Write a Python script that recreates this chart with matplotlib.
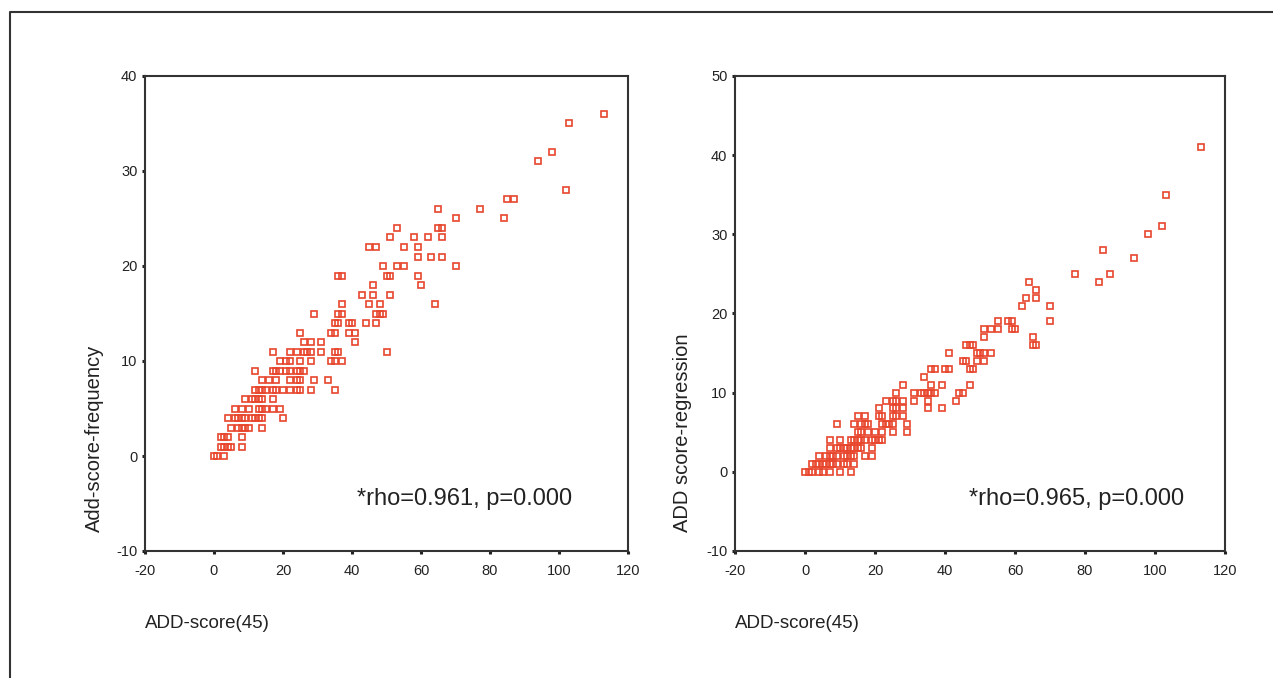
import matplotlib.pyplot as plt
from matplotlib.lines import Line2D

plt.rcParams['axes.unicode_minus'] = False

# values: y level, then the ADD-score(45) values on that level
freq_levels = [0, 1, 2, 3, 4, 5, 6, 7, 8, 9, 10, 11, 12, 13, 14, 15, 16, 17, 18, 19,
               20, 21, 22, 23, 24, 25, 26, 27, 28, 31, 32, 35, 36]
freq_x = [
    [0, 1, 3],
    [2, 3, 4, 5, 8],
    [2, 3, 4, 8],
    [5, 7, 8, 9, 10, 14],
    [4, 6, 7, 8, 9, 11, 12, 13, 14, 20],
    [6, 8, 10, 13, 14, 15, 17, 19],
    [9, 11, 12, 13, 14, 17],
    [12, 13, 14, 15, 17, 18, 20, 22, 24, 25, 28, 35],
    [14, 16, 18, 22, 24, 25, 29, 33],
    [12, 17, 18, 19, 21, 22, 24, 25, 26],
    [19, 21, 22, 25, 28, 34, 35, 37],
    [17, 22, 24, 26, 27, 28, 31, 35, 36, 50],
    [26, 28, 31, 41],
    [25, 34, 35, 39, 41],
    [35, 36, 39, 40, 44, 47],
    [29, 36, 37, 47, 48, 49],
    [37, 45, 48, 64],
    [43, 46, 51],
    [46, 60],
    [36, 37, 50, 51, 59],
    [49, 53, 55, 70],
    [59, 63, 66],
    [45, 47, 55, 59],
    [51, 58, 62, 66],
    [53, 65, 66],
    [70, 84],
    [65, 77],
    [85, 87],
    [102],
    [94],
    [98],
    [103],
    [113],
]

regr_levels = [0, 1, 2, 3, 4, 5, 6, 7, 8, 9, 10, 11, 12, 13, 14, 15, 16, 17, 18, 19,
               21, 22, 23, 24, 25, 27, 28, 30, 31, 35, 41]
regr_x = [
    [0, 1, 2, 4, 5, 7, 10, 13],
    [2, 3, 4, 5, 6, 7, 8, 9, 11, 12, 14],
    [4, 6, 7, 8, 9, 11, 12, 13, 14, 17, 19],
    [7, 9, 10, 11, 12, 13, 14, 15, 16, 19],
    [7, 10, 13, 14, 15, 16, 17, 19, 20, 21, 22],
    [15, 16, 18, 20, 22, 25, 29],
    [9, 14, 16, 17, 18, 22, 23, 24, 25, 29],
    [15, 17, 21, 22, 25, 26, 28],
    [21, 25, 26, 28, 35, 39],
    [23, 25, 26, 28, 31, 35, 43],
    [26, 31, 33, 34, 35, 36, 37, 44, 45],
    [28, 36, 39, 47],
    [34],
    [36, 37, 40, 41, 47, 48],
    [45, 46, 49, 51],
    [41, 49, 50, 51, 53],
    [46, 47, 48, 65, 66],
    [51, 65],
    [51, 53, 55, 59, 60],
    [55, 58, 59, 70],
    [62, 70],
    [63, 66],
    [66],
    [64, 84],
    [77, 87],
    [94],
    [85],
    [98],
    [102],
    [103],
    [113],
]

y_labels = ['Add-score-frequency', 'ADD score-regression']
x_label = 'ADD-score(45)'
notes = ['*rho=0.961, p=0.000', '*rho=0.965, p=0.000']
y_ticks = [[-10, 0, 10, 20, 30, 40], [-10, 0, 10, 20, 30, 40, 50]]
x_ticks = [-20, 0, 20, 40, 60, 80, 100, 120]

font = ['Liberation Sans', 'DejaVu Sans']
red = '#e8462c'
ink = '#333333'


def flatten(levels, xs):
    px, py = [], []
    for lv, row in zip(levels, xs):
        for v in row:
            px.append(v)
            py.append(lv)
    return px, py


W, H = 1273, 678
fig = plt.figure(figsize=(W / 100, H / 100), dpi=100)

# outer frame, only its left and top edges are inside the picture
fig.add_artist(Line2D([10 / W, 10 / W, 1.02], [-0.02, 1 - 12 / H, 1 - 12 / H],
                      transform=fig.transFigure, color=ink, lw=1.5))

panels = [
    (flatten(freq_levels, freq_x), [145, 483], 94, 357, 145),
    (flatten(regr_levels, regr_x), [735, 490], 683, 969, 735),
]

for i, ((px, py), (left, width), ylab_x, note_x, xlab_x) in enumerate(panels):
    ax = fig.add_axes([left / W, (H - 551) / H, width / W, 475 / H])
    ax.plot(px, py, 's', ms=5, mfc='none', mec=red, mew=1.2, ls='none')
    ax.set_xlim(-20, 120)
    ax.set_ylim(y_ticks[i][0], y_ticks[i][-1])
    ax.set_xticks(x_ticks)
    ax.set_yticks(y_ticks[i])
    ax.tick_params(direction='out', length=2.5, width=2.2, color='#222222',
                   labelsize=10.5, labelcolor='#222222')
    ax.tick_params(axis='x', pad=7)
    ax.tick_params(axis='y', pad=3)
    for lab in ax.get_xticklabels() + ax.get_yticklabels():
        lab.set_family(font)
    for sp in ax.spines.values():
        sp.set_color(ink)
        sp.set_linewidth(1.5)

    ax.text((note_x - left) / width, (551 - 505) / 475, notes[i],
            transform=ax.transAxes, fontsize=17, family=font,
            color='#222222', ha='left', va='baseline')

    fig.text(ylab_x / W, (H - 532) / H, y_labels[i], rotation=90,
             ha='center', va='bottom', fontsize=14.5, family=font, color='#222222')
    fig.text(xlab_x / W, (H - 623) / H, x_label, ha='left', va='center',
             fontsize=13.5, family=font, color='#222222')

fig.savefig('out.png', dpi=100)
